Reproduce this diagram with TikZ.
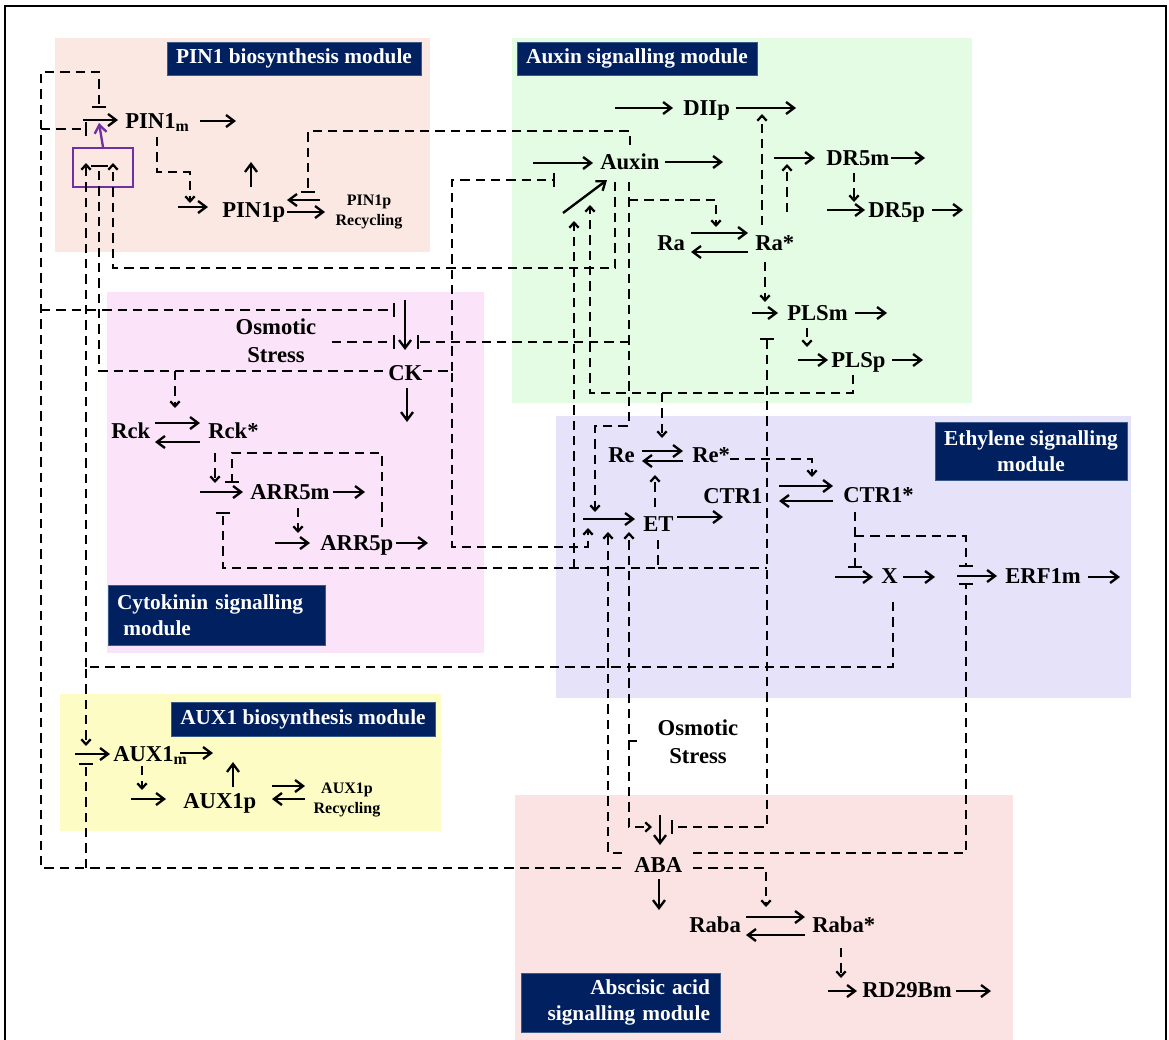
\documentclass[tikz,border=0pt]{standalone}
\usepackage{fontspec}
\setmainfont{Liberation Serif}
\usetikzlibrary{arrows.meta}
\definecolor{pinbg}{HTML}{FBE8E2}
\definecolor{auxbg}{HTML}{E3FCE3}
\definecolor{ckbg}{HTML}{FBE3FA}
\definecolor{etbg}{HTML}{E6E2FA}
\definecolor{auxonebg}{HTML}{FCFCC4}
\definecolor{ababg}{HTML}{FCE3E3}
\definecolor{navy}{HTML}{002060}
\definecolor{navyedge}{HTML}{3A5A8C}
\definecolor{purplebox}{HTML}{7030A0}
\newcommand{\mkpt}[2]{\coordinate (#1) at (#2);}
\newcommand{\sarr}[3]{\coordinate (#1a) at (#2); \coordinate (#1b) at (#3); \draw[sar] (#1a) -- (#1b);}
\newcommand{\darr}[3]{\coordinate (#1a) at (#2); \coordinate (#1b) at (#3); \draw[dar] (#1a) -- (#1b);}
\begin{document}
\begin{tikzpicture}[x=0.75pt,y=-0.75pt,
  lbl/.style={font=\fontsize{17}{21}\selectfont\bfseries, inner sep=0pt, anchor=base west},
  lblc/.style={font=\fontsize{17}{21}\selectfont\bfseries, inner sep=0pt, align=center},
  smalllbl/.style={font=\fontsize{12}{15.5}\selectfont\bfseries, inner sep=0pt, align=center},
  titlebox/.style={fill=navy, draw=navyedge, line width=0.6pt, text=white, font=\fontsize{16}{19.5}\selectfont\bfseries, inner sep=0pt},
  sar/.style={line width=1.75pt, -{Straight Barb[length=6pt,width=9pt]}},
  dl/.style={line width=1.7pt, dash pattern=on 7pt off 4.5pt},
  dar/.style={dl, -{Straight Barb[length=3.8pt,width=7pt]}},
  dinh/.style={dl, -{Bar[width=10.5pt]}},
  dinhb/.style={dl, {Bar[width=10.5pt]}-{Bar[width=10.5pt]}},
]
\useasboundingbox (0,0) rectangle (1169,1039);
% module backgrounds
\fill[pinbg] (55,38) rectangle (430,252);
\fill[auxbg] (512,38) rectangle (972,403);
\fill[ckbg] (107,292) rectangle (484,653);
\fill[etbg] (556,416) rectangle (1131,698);
\fill[auxonebg] (60,694) rectangle (441,831);
\fill[ababg] (515,795) rectangle (1013,1060);
% frame
\draw[line width=1.6pt] (5,1060) -- (5,6) -- (1166,6) -- (1166,1060);
% titles
\node[titlebox, minimum width=190.5pt, minimum height=24.75pt] (tPIN) at (294,58.5) {PIN1 biosynthesis module};
\node[titlebox, minimum width=180pt, minimum height=24.75pt] (tAUX) at (637,58.5) {Auxin signalling module};
\node[titlebox, inner xsep=6.75pt, text width=149.25pt, align=left, minimum height=45pt] (tCK) at (216.5,615) {Cytokinin signalling\\\hspace*{0.3em}module};
\node[titlebox, minimum width=144pt, minimum height=43.5pt, align=center] (tET) at (1031,451) {Ethylene signalling\\module};
\node[titlebox, minimum width=198pt, minimum height=25.5pt] (tAUXone) at (303,719) {AUX1 biosynthesis module};
\node[titlebox, inner xsep=7.5pt, text width=134.25pt, align=right, minimum height=44.25pt] (tABA) at (620.5,1002.5) {Abscisic acid\\signalling module};

% purple box
\node[draw=purplebox, line width=1.5pt, minimum width=45pt, minimum height=29.25pt, inner sep=0pt] (pbox) at (103,167.5) {};
\mkpt{pub}{99,123}
\draw[sar, purplebox] (pbox.north) -- (pub);
\mkpt{pba}{91,166} \mkpt{pbb}{108,166}
\draw[line width=1.6pt] (pba) -- (pbb);

% solid arrows
\sarr{pmi}{83,120}{118,120}
\sarr{pmo}{200,121}{236,121}
\sarr{ppi}{178,207}{208,207}
\sarr{ppu}{251,187}{251,162}
\sarr{ppl}{320,200}{287,200}
\sarr{ppr}{287,212}{325,212}
\sarr{axi}{533,163}{593,163}
\sarr{axo}{665,162}{723,162}
\sarr{axd}{563,213}{607,180}
\sarr{dii}{615,108}{673,108}
\sarr{dio}{736,108}{796,108}
\sarr{drmi}{774,158}{815,158}
\sarr{drmo}{891,158}{925,158}
\sarr{drpi}{827,210}{865,210}
\sarr{drpo}{932,210}{963,210}
\sarr{raf}{691,233}{748,233}
\sarr{rab}{748,252}{691,252}
\sarr{plmi}{752,313}{778,313}
\sarr{plmo}{855,313}{887,313}
\sarr{plpi}{798,360}{828,360}
\sarr{plpo}{892,360}{923,360}
\sarr{cki}{405,300}{405,350}
\sarr{cko}{407,388}{407,422}
\sarr{rckf}{155,423}{200,423}
\sarr{rckb}{200,442}{155,442}
\sarr{armi}{200,492}{243,492}
\sarr{armo}{333,492}{365,492}
\sarr{arpi}{275,543}{310,543}
\sarr{arpo}{396,543}{428,543}
\sarr{ref}{642,451}{683,451}
\sarr{reb}{683,461}{642,461}
\sarr{ctf}{779,486}{833,486}
\sarr{ctb}{833,501}{779,501}
\sarr{eti}{583,519}{635,519}
\sarr{eto}{677,517}{723,517}
\sarr{xi}{835,577}{873,577}
\sarr{xo}{903,577}{935,577}
\sarr{erfi}{957,576}{997,576}
\sarr{erfo}{1088,577}{1120,577}
\sarr{auxi}{75,754}{110,754}
\sarr{auxo}{180,753}{213,753}
\sarr{auxpi}{131,799}{166,799}
\sarr{auxpu}{233,787}{233,762}
\sarr{auxrf}{272,786}{305,786}
\sarr{auxrb}{305,799}{272,799}
\sarr{abai}{660,815}{660,845}
\sarr{abao}{659,879}{659,910}
\sarr{rbf}{746,917}{805,917}
\sarr{rbb}{805,935}{746,935}
\sarr{rdi}{828,991}{857,991}
\sarr{rdo}{956,991}{991,991}

% dashed connectors
\mkpt{abaL}{621,868} \mkpt{cBL}{41,868} \mkpt{cTL}{41,72} \mkpt{pmbar}{99,108}
\draw[dinh] (abaL) -- (cBL) -- (cTL) -| (pmbar);
\mkpt{jA}{41,129} \mkpt{barA}{87,129}
\draw[dinh] (jA) -- (barA);
\mkpt{jB}{41,310} \mkpt{ckbarA}{395,310}
\draw[dinh] (jB) -- (ckbarA);
\mkpt{jC}{86,868} \mkpt{auxbar}{86,763}
\draw[dinh] (jC) -- (auxbar);
\mkpt{xbot}{893,602} \mkpt{jD}{86,667} \mkpt{auxar}{86,746} \mkpt{boxL}{86,163}
\draw[dar] (xbot) |- (jD) -- (auxar);
\draw[dar] (jD) -- (boxL);
\mkpt{boxM}{99,171} \mkpt{ckL}{383,371} \mkpt{jE}{175,371} \mkpt{rckar}{175,408}
\draw[dl] (boxM) |- (ckL);
\draw[dar] (jE) -- (rckar);
\mkpt{axBa}{615,182} \mkpt{cR}{113,268} \mkpt{boxR}{113,163}
\draw[dar] (axBa) |- (cR) -- (boxR);
\mkpt{axT}{630,145} \mkpt{cT}{630,131} \mkpt{recbar}{308,193}
\draw[dinh] (axT) -- (cT) -| (recbar);
\mkpt{pmB}{157,137} \mkpt{cP}{157,172} \mkpt{ppar}{190,203}
\draw[dar] (pmB) -- (cP) -| (ppar);
\mkpt{axBb}{629,182} \mkpt{cQ}{629,426} \mkpt{etarA}{595,512}
\draw[dar] (axBb) -- (cQ) -| (etarA);
\mkpt{jF}{629,200} \mkpt{raar}{716,227}
\draw[dar] (jF) -| (raar);
\mkpt{jG}{629,342} \mkpt{ckbarC}{417,342}
\draw[dinh] (jG) -- (ckbarC);
\mkpt{osmA}{332,342} \mkpt{ckbarB}{395,342}
\draw[dinh] (osmA) -- (ckbarB);
\mkpt{ckR}{423,371} \mkpt{jH}{452,371} \mkpt{cU}{452,180} \mkpt{axbar}{555,180} \mkpt{cV}{452,547} \mkpt{etarB}{588,528}
\draw[dinh] (jH) -- (cU) -- (axbar);
\draw[dar] (ckR) -- (jH) -- (cV) -| (etarB);
\mkpt{plspB}{853,375} \mkpt{cW}{590,393} \mkpt{axarA}{590,205} \mkpt{jI}{662,393} \mkpt{rear}{662,438}
\draw[dar] (plspB) |- (cW) -- (axarA);
\draw[dar] (jI) -- (rear);
\mkpt{etB}{658,540} \mkpt{cX}{223,568} \mkpt{arrbar}{223,512} \mkpt{jJ}{574,568} \mkpt{axarB}{574,221} \mkpt{jK}{658,568} \mkpt{eR}{767,568}
\draw[dinh] (etB) |- (cX) -- (arrbar);
\draw[dar] (jJ) -- (axarB);
\draw[dl] (jK) -- (eR);
\mkpt{plsbar}{767,338} \mkpt{cY}{767,827} \mkpt{ababar}{671,827}
\draw[dinhb] (plsbar) -- (cY) -- (ababar);
\mkpt{reR}{730,459} \mkpt{ctrar}{812,477}
\draw[dar] (reR) -| (ctrar);
\darr{etre}{655,507}{655,475}
\darr{rad}{762,225}{762,114}
\darr{radr}{787,212}{787,164}
\darr{drmp}{854,173}{854,202}
\darr{rapl}{765,262}{765,302}
\darr{plmp}{807,328}{807,347}
\darr{rckarr}{215,453}{215,483}
\mkpt{arrpT}{382,527} \mkpt{cZ}{382,453} \mkpt{arrbarB}{232,483}
\draw[dinh] (arrpT) -- (cZ) -| (arrbarB);
\darr{armp}{298,508}{298,533}
\mkpt{ctrB}{855,512} \mkpt{xbar}{855,568} \mkpt{jL}{855,536} \mkpt{erfbarA}{966,567}
\draw[dinh] (ctrB) -- (xbar);
\draw[dinh] (jL) -| (erfbarA);
\mkpt{abaTR}{693,853} \mkpt{erfbarB}{966,583}
\draw[dinh] (abaTR) -| (erfbarB);
\mkpt{abaTL}{622,853} \mkpt{etarC}{608,532}
\draw[dar] (abaTL) -| (etarC);
\mkpt{osmB}{637,741} \mkpt{jM}{629,741} \mkpt{etarD}{629,532} \mkpt{cAA}{629,827} \mkpt{abaar}{652,827}
\draw[dar] (osmB) -- (jM) -- (etarD);
\draw[dar] (jM) -- (cAA) -- (abaar);
\mkpt{abaR}{693,868} \mkpt{rabaar}{766,907}
\draw[dar] (abaR) -| (rabaar);
\darr{rbrd}{841,948}{841,978}
\darr{auxmp}{142,766}{142,790}

% labels
\node[lbl] (PINm) at (125,128) {PIN1\textsubscript{m}};
\node[lbl] (PINp) at (222,217) {PIN1p};
\node[smalllbl] (PINrec) at (369,212) {PIN1p\\Recycling};
\node[lbl] (Aux) at (600,169) {Auxin};
\node[lbl] (DII) at (683,115) {DIIp};
\node[lbl] (DRm) at (826,165) {DR5m};
\node[lbl] (DRp) at (868,217) {DR5p};
\node[lbl] (Ra) at (657,250) {Ra};
\node[lbl] (Ras) at (755,250) {Ra*};
\node[lbl] (PLm) at (787,320) {PLSm};
\node[lbl] (PLp) at (831,367) {PLSp};
\node[lbl] (CK) at (388,380) {CK};
\node[lblc] (OsmA) at (276,341) {Osmotic\\Stress};
\node[lbl] (Rck) at (111,438) {Rck};
\node[lbl] (Rcks) at (208,438) {Rck*};
\node[lbl] (ARm) at (250,499) {ARR5m};
\node[lbl] (ARp) at (320,550) {ARR5p};
\node[lbl] (Re) at (608,462) {Re};
\node[lbl] (Res) at (692,462) {Re*};
\node[lbl] (CTR) at (703,503) {CTR1};
\node[lbl] (CTRs) at (843,502) {CTR1*};
\node[lbl] (ET) at (643,531) {ET};
\node[lbl] (X) at (881,583) {X};
\node[lbl] (ERF) at (1005,583) {ERF1m};
\node[lbl] (AUXm) at (113,761) {AUX1\textsubscript{m}};
\node[lbl] (AUXp) at (183,808) {AUX1p};
\node[smalllbl] (AUXrec) at (347,800) {AUX1p\\Recycling};
\node[lblc] (OsmB) at (698,741.5) {Osmotic\\Stress};
\node[lbl] (ABA) at (634,872) {ABA};
\node[lbl] (Raba) at (689,932) {Raba};
\node[lbl] (Rabas) at (812,932) {Raba*};
\node[lbl] (RD) at (862,997) {RD29Bm};
\end{tikzpicture}
\end{document}
